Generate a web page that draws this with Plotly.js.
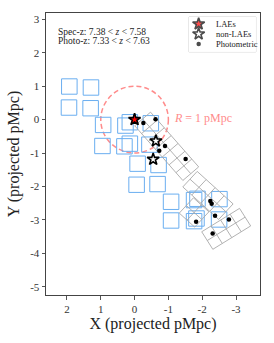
<!DOCTYPE html>
<html><head><meta charset="utf-8">
<script src="https://cdn.plot.ly/plotly-3.0.1.min.js"></script>
<style>html,body{margin:0;padding:0;background:#fff;}#chart{width:274px;height:343px;}</style>
</head><body><div id="chart"></div>
<script>
// Square pointings (centres, projected pMpc)
const blueX = [1.93,1.29,1.94,1.30,0.93,0.95,0.27,0.14,-0.48,0.30,0.14,-0.44,-0.09,-0.71,-0.06,-0.68,-1.08,-1.08,-1.76,-1.86,-1.76,-1.83,-2.51,-2.50];
const blueY = [0.99,0.96,0.36,0.34,-0.16,-0.79,-0.18,-0.08,-0.11,-0.80,-0.72,-0.75,-1.32,-1.36,-1.95,-1.93,-2.46,-3.02,-2.41,-2.37,-3.04,-2.96,-2.38,-2.99];
const blueSide = 0.46;

// Tiled (grey) footprints
const gridX = [-0.95,-2.17,-1.76,-2.71];
const gridY = [-0.80,-2.27,-2.78,-3.27];
const gridPA = [49,42.5,42.5,148];
const gridNLong = [7,4,2,4];
const gridNWide = [2,2,2,2];
const gridCellL = [0.31,0.36,0.31,0.33];
const gridCellW = [0.31,0.315,0.31,0.31];

// Galaxies
const laeX = [0], laeY = [0];
const nonLaeX = [-0.63,-0.55], nonLaeY = [-0.64,-1.19];
const photX = [-0.26,-0.62,-0.90,-0.73,-1.51,-2.24,-2.28,-2.38,-2.79,-1.82,-2.31];
const photY = [-0.10,0.01,-0.79,-0.93,-1.18,-2.44,-2.52,-2.88,-2.99,-3.06,-3.41];

const radius = 1;
const xTickVals = [2,1,0,-1,-2,-3];
const xTickText = ['2','1','0','-1','-2','-3'];
const yTickVals = [3,2,1,0,-1,-2,-3,-4,-5];
const yTickText = ['3','2','1','0','-1','-2','-3','-4','-5'];
const legendLabels = ['LAEs','non-LAEs','Photometric'];

// build square outlines
const bx=[], by=[];
blueX.forEach((cx,i)=>{const cy=blueY[i], h=blueSide/2;
  bx.push(cx-h,cx+h,cx+h,cx-h,cx-h,null); by.push(cy-h,cy-h,cy+h,cy+h,cy-h,null);});

// build grids
const gx=[], gy=[];
gridX.forEach((cx,k)=>{
  const cy=gridY[k], a=gridPA[k]*Math.PI/180, ux=Math.cos(a), uy=Math.sin(a), vx=-uy, vy=ux;
  const nl=gridNLong[k], nw=gridNWide[k], cl=gridCellL[k], cw=gridCellW[k], L=nl*cl, W=nw*cw;
  const P=(s,t)=>[cx+(s-L/2)*ux+(t-W/2)*vx, cy+(s-L/2)*uy+(t-W/2)*vy];
  for(let i=0;i<=nl;i++){const p=P(i*cl,0), q=P(i*cl,W); gx.push(p[0],q[0],null); gy.push(p[1],q[1],null);}
  for(let j=0;j<=nw;j++){const p=P(0,j*cw), q=P(L,j*cw); gx.push(p[0],q[0],null); gy.push(p[1],q[1],null);}
});

const serif = 'Liberation Serif, DejaVu Serif, serif';
const traces = [
  {x:bx,y:by,mode:'lines',line:{color:'#6aaef0',width:1},hoverinfo:'skip',showlegend:false},
  {x:gx,y:gy,mode:'lines',line:{color:'#a9a9a9',width:0.9},hoverinfo:'skip',showlegend:false},
  {x:photX,y:photY,mode:'markers',marker:{color:'#000',size:4.5},showlegend:false},
  {x:nonLaeX,y:nonLaeY,mode:'markers',marker:{symbol:'star',color:'#fff',size:9,line:{color:'#000',width:1.6}},showlegend:false},
  {x:laeX,y:laeY,mode:'markers',marker:{symbol:'star',color:'#ff0000',size:9,line:{color:'#000',width:1.6}},showlegend:false},
  // legend glyphs
  {x:[0.145,0.145,0.145],y:[0.8,0.514,0.229],xaxis:'x2',yaxis:'y2',mode:'markers',
   marker:{symbol:['star','star','circle'],color:['#ff0000','#fff','#000'],size:[9,9,4.5],
   line:{color:'#000',width:[1.6,1.6,0]}},showlegend:false,hoverinfo:'skip'}
];

const layout = {
  width:274,height:343,margin:{l:46,r:14,t:13,b:48,pad:0},
  paper_bgcolor:'#fff',plot_bgcolor:'#fff',showlegend:false,
  font:{family:serif,color:'#222'},
  xaxis:{range:[2.62,-3.71],tickvals:xTickVals,ticktext:xTickText,ticks:'outside',ticklen:3.5,tickwidth:1,tickcolor:'#555',
    showline:true,mirror:true,linecolor:'#444',linewidth:1,showgrid:false,zeroline:false,
    tickfont:{size:11,color:'#333'},title:{text:'X (projected pMpc)',font:{size:16,color:'#222'},standoff:3}},
  yaxis:{range:[-5.25,3.19],tickvals:yTickVals,ticktext:yTickText,ticks:'outside',ticklen:3.5,tickwidth:1,tickcolor:'#555',
    showline:true,mirror:true,linecolor:'#444',linewidth:1,showgrid:false,zeroline:false,
    tickfont:{size:11,color:'#333'},title:{text:'Y (projected pMpc)',font:{size:16,color:'#222'},standoff:6}},
  xaxis2:{domain:[0.668,0.981],range:[0,1],visible:false,anchor:'y2',fixedrange:true},
  yaxis2:{domain:[0.862,0.986],range:[0,1],visible:false,anchor:'x2',fixedrange:true},
  shapes:[
    {type:'circle',xref:'x',yref:'y',x0:-radius,x1:radius,y0:-radius,y1:radius,
     line:{color:'#ff8c8c',width:1.5,dash:'5px,3px'},layer:'below'},
    {type:'rect',xref:'paper',yref:'paper',x0:0.668,x1:0.981,y0:0.862,y1:0.986,
     line:{color:'#d4d4d4',width:1},fillcolor:'rgba(255,255,255,0.8)',layer:'below'}
  ],
  annotations:[
    {xref:'x',yref:'y',x:2.31,y:2.62,xanchor:'left',yanchor:'middle',showarrow:false,
     text:'Spec-z: 7.38 &lt; <i>z</i> &lt; 7.58',font:{size:9.5,color:'#222'}},
    {xref:'x',yref:'y',x:2.31,y:2.34,xanchor:'left',yanchor:'middle',showarrow:false,
     text:'Photo-z: 7.33 &lt; <i>z</i> &lt; 7.63',font:{size:9.5,color:'#222'}},
    {xref:'x',yref:'y',x:-1.12,y:0.04,xanchor:'left',yanchor:'middle',showarrow:false,
     text:'<i>R</i> = 1 pMpc',font:{size:12,color:'#ff8c8c'}},
    {xref:'x2',yref:'y2',x:0.369,y:0.8,xanchor:'left',yanchor:'middle',showarrow:false,text:legendLabels[0],font:{size:8.5,color:'#222'}},
    {xref:'x2',yref:'y2',x:0.369,y:0.514,xanchor:'left',yanchor:'middle',showarrow:false,text:legendLabels[1],font:{size:8.5,color:'#222'}},
    {xref:'x2',yref:'y2',x:0.369,y:0.229,xanchor:'left',yanchor:'middle',showarrow:false,text:legendLabels[2],font:{size:8.5,color:'#222'}}
  ]
};
Plotly.newPlot('chart',traces,layout,{staticPlot:true,displayModeBar:false});
</script></body></html>
